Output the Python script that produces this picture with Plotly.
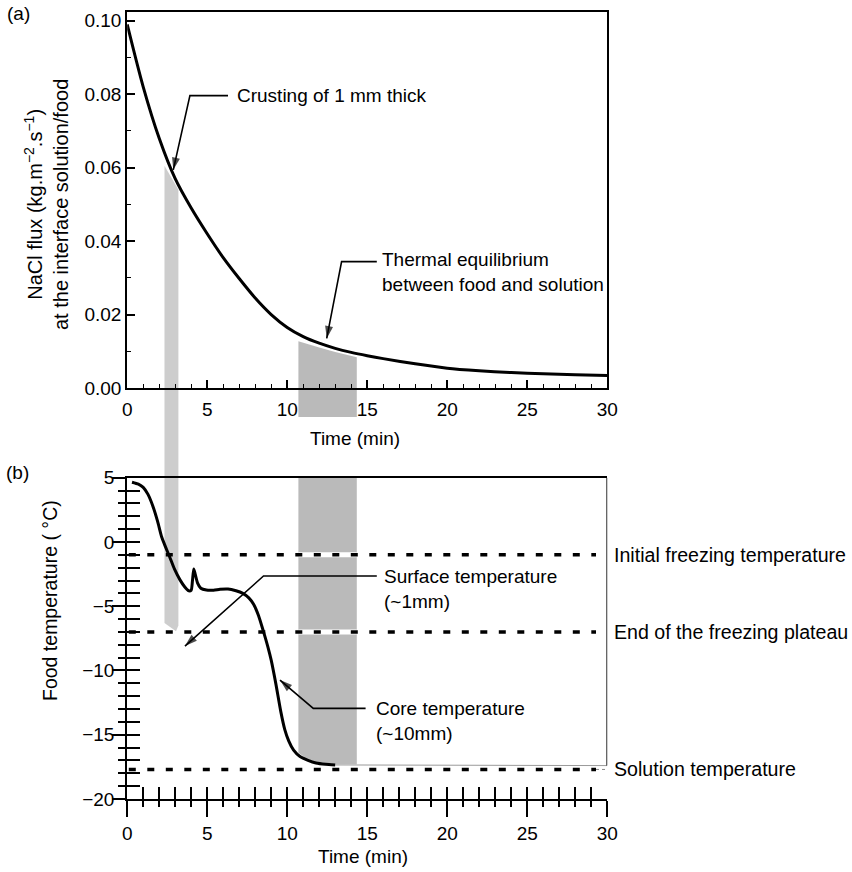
import plotly.graph_objects as go

# ---------------- data ----------------
# (a) NaCl flux at the interface solution/food
flux_time = [0, 1, 2, 3, 4, 5, 6, 7, 8, 9, 10, 11, 12, 13, 14, 15, 16, 18, 20, 22, 24, 26, 28, 30]
flux_value = [0.099, 0.082, 0.068, 0.057, 0.049, 0.042, 0.0355, 0.0298, 0.0245, 0.0200, 0.0165,
              0.0140, 0.0122, 0.0108, 0.0097, 0.0088, 0.0080, 0.0066, 0.0054, 0.0047, 0.0042,
              0.0039, 0.0036, 0.0034]

# (b) core temperature
core_time = [0.3, 0.7, 1.0, 1.3, 1.6, 1.9, 2.15, 2.4, 2.65, 2.95, 3.3, 3.6, 3.85, 4.0, 4.08, 4.16,
             4.25, 4.4, 4.6, 4.95, 5.4, 5.8, 6.3, 6.8, 7.2, 7.6, 7.9, 8.2, 8.5, 8.8, 9.0, 9.3,
             9.6, 9.85, 10.1, 10.4, 10.8, 11.3, 11.8, 12.4, 13.0]
core_temp = [4.65, 4.5, 4.25, 3.7, 2.8, 1.6, 0.4, -0.4, -1.15, -2.1, -2.95, -3.5, -3.8, -3.75,
             -3.0, -2.1, -2.5, -3.2, -3.6, -3.74, -3.75, -3.68, -3.66, -3.8, -3.98, -4.35,
             -4.85, -5.7, -6.9, -8.2, -9.2, -11.1, -13.2, -14.6, -15.5, -16.2, -16.7, -17.0,
             -17.2, -17.3, -17.35]
core_tail_time = [13.0, 30.0]
core_tail_temp = [-17.35, -17.4]

ref_temps = [-1.0, -7.0, -17.7]
ref_labels = ["Initial freezing temperature", "End of the freezing plateau", "Solution temperature"]
ref_span = [0.1, 29.3]

# shaded periods (min)
crust_band = [2.33, 3.2]
crust_band_top = [0.0605, 0.054]        # flux at band edges
crust_band_bottom = [-6.3, -6.95]       # temperature at band bottom
equil_band = [10.7, 14.35]
equil_band_top_t = [10.7, 12.0, 13.0, 14.35]
equil_band_top = [0.0127, 0.0110, 0.0098, 0.0084]
equil_band_bottom_t = [14.35, 13.0, 12.0, 11.3, 10.7]
equil_band_bottom = [-17.3, -17.3, -17.2, -16.95, -16.4]

x_ticks = [0, 5, 10, 15, 20, 25, 30]

# callouts: (text, text_x, text_y, elbow_x, elbow_y, line_end_x, tip_x, tip_y)
callouts_a = [
    ("Crusting of 1 mm thick", 6.74, 0.0796, 3.92, 0.0796, 6.3, 2.88, 0.0594),
    ("Thermal equilibrium<br>between food and solution", 15.8, 0.0317, 13.4, 0.0344, 15.6, 12.47, 0.0135),
]
callouts_b = [
    ("Surface temperature<br>(~1mm)", 15.95, -3.65, 8.52, -2.65, 15.6, 3.61, -8.1),
    ("Core temperature<br>(~10mm)", 15.4, -13.9, 11.63, -12.95, 14.9, 9.55, -10.75),
]

# ---------------- layout constants ----------------
FONT = "Liberation Sans, Arial, Helvetica, sans-serif"
W, H = 852, 872
XDOM = [127.2 / W, 607.2 / W]
TOP_DOM = [1 - 388 / H, 1 - 11.7 / H]
BOT_DOM = [1 - 799 / H, 1 - 477.7 / H]
FS = 19
BAND1 = "rgba(90,90,90,0.30)"
BAND2 = "rgba(90,90,90,0.42)"

fig = go.Figure()

# ---- traces: top ----
fig.add_trace(go.Scatter(x=flux_time, y=flux_value, mode="lines", line=dict(color="black", width=3, shape="spline", smoothing=0.8),
                         xaxis="x", yaxis="y", showlegend=False, hoverinfo="skip"))

# ---- traces: bottom ----
for t in ref_temps:
    fig.add_trace(go.Scatter(x=ref_span, y=[t, t], mode="lines", line=dict(color="black", width=3.5, dash="7px,11.5px"),
                             xaxis="x2", yaxis="y2", showlegend=False, hoverinfo="skip"))
fig.add_trace(go.Scatter(x=core_tail_time, y=core_tail_temp, mode="lines", line=dict(color="#9a9a9a", width=1),
                         xaxis="x2", yaxis="y2", showlegend=False, hoverinfo="skip"))
fig.add_trace(go.Scatter(x=core_time, y=core_temp, mode="lines", line=dict(color="black", width=3, shape="spline", smoothing=0.6),
                         xaxis="x2", yaxis="y2", showlegend=False, hoverinfo="skip"))
# dummy traces to materialise the tick-overlay axes
for xa, ya in [("x3", "y2"), ("x2", "y3"), ("x2", "y4")]:
    fig.add_trace(go.Scatter(x=[None], y=[None], xaxis=xa, yaxis=ya, showlegend=False, hoverinfo="skip"))

shapes = []
# band 1 (crusting)
shapes.append(dict(type="path", xref="x", yref="y", layer="below", fillcolor=BAND1, line=dict(width=0),
                   path=f"M {crust_band[0]},{crust_band_top[0]} L {crust_band[1]},{crust_band_top[1]} L {crust_band[1]},0 L {crust_band[0]},0 Z"))
shapes.append(dict(type="rect", xref="x", yref="paper", layer="below", fillcolor=BAND1, line=dict(width=0),
                   x0=crust_band[0], x1=crust_band[1], y0=BOT_DOM[1], y1=TOP_DOM[0]))
shapes.append(dict(type="path", xref="x2", yref="y2", layer="below", fillcolor=BAND1, line=dict(width=0),
                   path=f"M {crust_band[0]},5 L {crust_band[1]},5 L {crust_band[1]},{crust_band_bottom[0]-0.2} "
                        f"L {crust_band[1]-0.15},{crust_band_bottom[1]} L {crust_band[0]},{crust_band_bottom[0]} Z"))
# band 2 (thermal equilibrium)
p = "M " + " L ".join(f"{t},{v}" for t, v in zip(equil_band_top_t, equil_band_top)) + f" L {equil_band[1]},0 L {equil_band[0]},0 Z"
shapes.append(dict(type="path", xref="x", yref="y", layer="below", fillcolor=BAND2, line=dict(width=0), path=p))
shapes.append(dict(type="rect", xref="x", yref="paper", layer="below", fillcolor=BAND2, line=dict(width=0),
                   x0=equil_band[0], x1=equil_band[1], y0=1 - 417 / H, y1=TOP_DOM[0]))
p = f"M {equil_band[0]},5 L {equil_band[1]},5 L " + " L ".join(f"{t},{v}" for t, v in zip(equil_band_bottom_t, equil_band_bottom)) + " Z"
shapes.append(dict(type="path", xref="x2", yref="y2", layer="below", fillcolor=BAND2, line=dict(width=0), path=p))
for t in ref_temps[:2]:
    shapes.append(dict(type="line", xref="x2", yref="y2", layer="below", x0=equil_band[0], x1=equil_band[1], y0=t, y1=t,
                       line=dict(color="white", width=5)))
# right border of (b)
shapes.append(dict(type="line", xref="x2", yref="y2", x0=30, x1=30, y0=5, y1=-17.4, line=dict(color="black", width=1.6)))
# faint leader to "Solution temperature"
shapes.append(dict(type="line", xref="x2", yref="y2", x0=29.3, x1=30.35, y0=-17.7, y1=-17.7,
                   line=dict(color="#888888", width=1, dash="dot")))

annotations = []
def callout(items, xr, yr):
    for text, tx, ty, ex, ey, lx, px, py in items:
        # leader: horizontal segment, then arrow to the pointed feature
        fig.add_trace(go.Scatter(x=[lx, ex, px], y=[ey, ey, py], mode="lines+markers", xaxis=xr, yaxis=yr,
                                 line=dict(color="black", width=1.6),
                                 marker=dict(symbol=["circle", "circle", "arrow"], size=[0, 0, 13], angleref="previous",
                                             color="black", line=dict(width=0)),
                                 showlegend=False, hoverinfo="skip", cliponaxis=False))
        annotations.append(dict(xref=xr, yref=yr, x=tx, y=ty, text=text, showarrow=False, xanchor="left", yanchor="middle",
                                align="left", font=dict(size=FS, color="black", family=FONT)))
callout(callouts_a, "x", "y")
callout(callouts_b, "x2", "y2")

for t, lab in zip(ref_temps, ref_labels):
    annotations.append(dict(xref="paper", yref="y2", x=612 / W, y=t, text=lab, showarrow=False, xanchor="left",
                            yanchor="middle", font=dict(size=19.6, color="black", family=FONT)))

def ptxt(text, x, y, angle=0, size=FS):
    annotations.append(dict(xref="paper", yref="paper", x=x / W, y=1 - y / H, text=text, showarrow=False,
                            xanchor="center", yanchor="middle", textangle=angle,
                            font=dict(size=size, color="black", family=FONT)))

ptxt("(a)", 18, 14)
ptxt("(b)", 17, 472)
ptxt("Time (min)", 355, 438)
ptxt("Time (min)", 363, 856)
ptxt("NaCl flux (kg.m<sup>−2</sup>.s<sup>−1</sup>)<br>at the interface solution/food", 46, 205, angle=-90, size=20)
ptxt("Food temperature ( °C)", 50, 601, angle=-90, size=19.5)

axfont = dict(size=FS, color="black", family=FONT)
fig.update_layout(
    width=W, height=H, autosize=False,
    margin=dict(l=0, r=0, t=0, b=0, autoexpand=False),
    paper_bgcolor="white", plot_bgcolor="white",
    font=dict(family=FONT, color="black", size=FS),
    shapes=shapes, annotations=annotations,
    xaxis=dict(domain=XDOM, anchor="y", range=[0, 30], tickvals=x_ticks, ticks="inside", ticklen=8, tickwidth=1.6,
               tickcolor="black", minor=dict(dtick=1, tick0=0, ticks="inside", ticklen=4, tickwidth=1.3, tickcolor="black"),
               showline=True, linecolor="black", linewidth=2, mirror=True, showgrid=False, zeroline=False,
               tickfont=axfont, ticklabelstandoff=3),
    yaxis=dict(domain=TOP_DOM, anchor="x", range=[0, 0.10245], dtick=0.02, tick0=0, tickformat=".2f", ticks="inside",
               ticklen=8, tickwidth=1.6, tickcolor="black",
               minor=dict(dtick=0.01, tick0=0, ticks="inside", ticklen=4, tickwidth=1.3, tickcolor="black"),
               showline=True, linecolor="black", linewidth=2, mirror=True, showgrid=False, zeroline=False,
               tickfont=axfont, ticklabelstandoff=0),
    xaxis2=dict(domain=XDOM, anchor="y2", range=[0, 30], tickvals=x_ticks, ticks="outside", ticklen=16, tickwidth=1.6,
                tickcolor="black", minor=dict(dtick=1, tick0=0, ticks="outside", ticklen=6, tickwidth=1.6, tickcolor="black"),
                showline=True, linecolor="black", linewidth=2, mirror=True, showgrid=False, zeroline=False, tickfont=axfont),
    yaxis2=dict(domain=BOT_DOM, anchor="x2", range=[-20, 5], dtick=5, tick0=0, ticks="outside", ticklen=7, tickwidth=1.6,
                tickcolor="black", minor=dict(dtick=1, tick0=0, ticks="outside", ticklen=7, tickwidth=1.6, tickcolor="black"),
                showline=True, linecolor="black", linewidth=2, showgrid=False, zeroline=False, tickfont=axfont),
    xaxis3=dict(overlaying="x2", anchor="y2", side="bottom", range=[0, 30], tickvals=x_ticks, ticks="inside", ticklen=12,
                tickwidth=1.6, tickcolor="black",
                minor=dict(dtick=1, tick0=0, ticks="inside", ticklen=12, tickwidth=1.6, tickcolor="black"),
                showline=False, showticklabels=False, showgrid=False, zeroline=False),
    yaxis3=dict(overlaying="y2", anchor="x2", side="left", range=[-20, 5], dtick=5, tick0=0, ticks="inside", ticklen=13,
                tickwidth=1.6, tickcolor="black",
                minor=dict(dtick=1, tick0=0, ticks="inside", ticklen=13, tickwidth=1.6, tickcolor="black"),
                showline=False, showticklabels=False, showgrid=False, zeroline=False),
    yaxis4=dict(overlaying="y2", anchor="x2", side="left", range=[-20, 5], dtick=5, tick0=0, ticks="outside", ticklen=14,
                tickwidth=1.6, tickcolor="black",
                showline=False, showticklabels=False, showgrid=False, zeroline=False),
)

fig.write_html("out.html", config={"displayModeBar": False}, post_script="document.body.style.margin='0px';")
